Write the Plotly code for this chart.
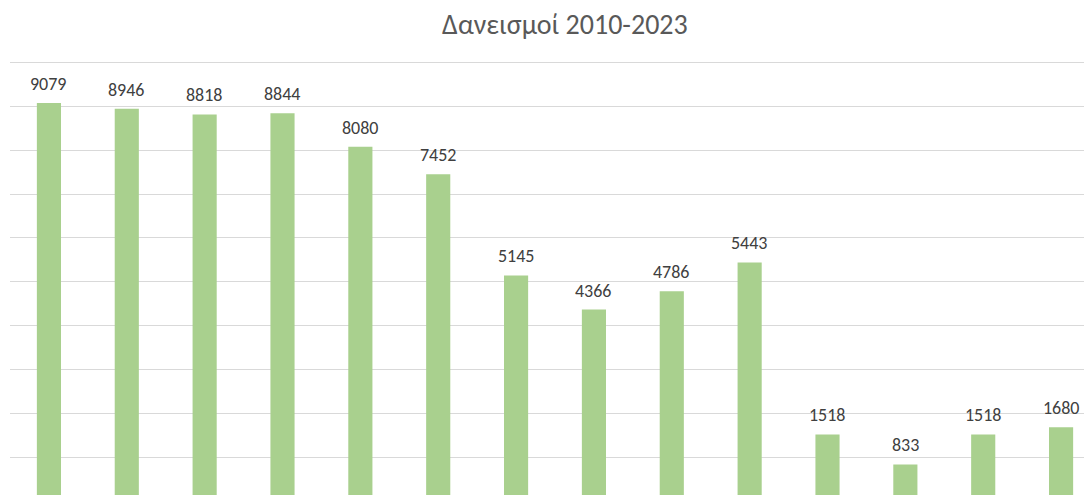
import plotly.graph_objects as go

years = [str(y) for y in range(2010, 2024)]
loans = [9079, 8946, 8818, 8844, 8080, 7452, 5145, 4366, 4786, 5443, 1518, 833, 1518, 1680]
title_text = "Δανεισμοί 2010-2023"

FONT = "Calibri, Carlito, Lato, sans-serif"

fig = go.Figure()
fig.add_trace(go.Bar(
    x=years, y=loans,
    marker=dict(color="#A9D08E", line=dict(width=0)),
    hoverinfo="x+y",
))

# category axis: annotation x given as category serial number
for i, v in enumerate(loans):
    fig.add_annotation(
        x=i, y=v, xref="x", yref="y", text=str(v), showarrow=False,
        yanchor="bottom", yshift=6,
        font=dict(family=FONT, size=18, color="#404040"),
    )

fig.update_layout(
    width=1092, height=493,
    margin=dict(l=2, r=0, t=52, b=0),
    paper_bgcolor="white", plot_bgcolor="white",
    bargap=0.69,
    showlegend=False,
    title=dict(text=title_text, x=0.510, xanchor="center", y=0.968, yanchor="middle",
               font=dict(family=FONT, size=28, color="#595959")),
    xaxis=dict(type="category", range=[-0.5, 13.5], showticklabels=False, showgrid=False,
               zeroline=False, showline=False, ticks=""),
    yaxis=dict(range=[0, 10060], dtick=1000, tick0=0, showticklabels=False,
               showgrid=True, gridcolor="#D9D9D9", gridwidth=1,
               zeroline=False, showline=False, ticks=""),
)

fig.write_html("out.html")
